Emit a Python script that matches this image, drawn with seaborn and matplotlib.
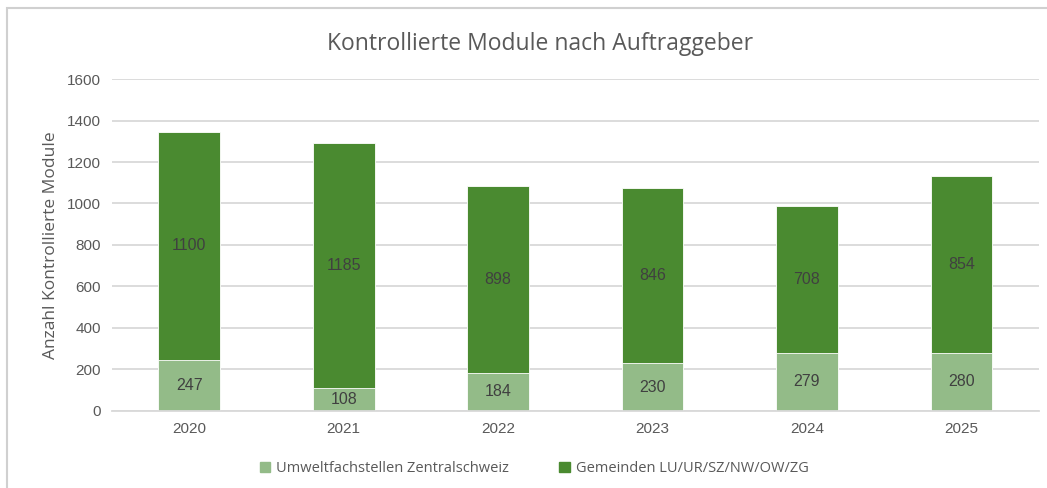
import matplotlib
matplotlib.use("Agg")

import matplotlib.pyplot as plt
import matplotlib.patches as mpatches
import numpy as np
import pandas as pd
import seaborn as sns

# ── Daten ──
jahre = ["2020", "2021", "2022", "2023", "2024", "2025"]
umweltfachstellen = [247, 108, 184, 230, 279, 280]
gemeinden = [1100, 1185, 898, 846, 708, 854]

serie_unten = "Umweltfachstellen Zentralschweiz"
serie_oben = "Gemeinden LU/UR/SZ/NW/OW/ZG"

_HELL = "#93bb88"
_DUNKEL = "#4a8a30"
_TEXT = "#595959"
_GRID = "#d9d9d9"

sns.set_theme(style="white")
plt.rcParams["font.family"] = ["Open Sans", "DejaVu Sans"]

df = pd.DataFrame({"Jahr": jahre, "unten": umweltfachstellen, "oben": gemeinden})
df["total"] = df["unten"] + df["oben"]

fig = plt.figure(figsize=(10.47, 4.88), dpi=100)
ax = fig.add_axes([0.107, 0.158, 0.885, 0.68])

# Gesamtbalken (dunkel), darüber der untere Anteil (hell)
sns.barplot(data=df, x="Jahr", y="total", color=_DUNKEL, width=0.4,
            saturation=1, ax=ax, edgecolor="white", linewidth=0.6)
sns.barplot(data=df, x="Jahr", y="unten", color=_HELL, width=0.4,
            saturation=1, ax=ax, edgecolor="white", linewidth=0.6)

# Beschriftungen
for i, (u, o) in enumerate(zip(umweltfachstellen, gemeinden)):
    ax.text(i, u / 2, str(u), ha="center", va="center", fontsize=11.5,
            color="#404040", family=["Liberation Sans", "DejaVu Sans"])
    ax.text(i, u + o / 2, str(o), ha="center", va="center", fontsize=11.5,
            color="#404040", family=["Liberation Sans", "DejaVu Sans"])

ax.set_ylim(0, 1600)
ax.set_yticks(np.arange(0, 1601, 200))
ax.set_xlim(-0.5, len(jahre) - 0.5)
ax.yaxis.grid(True, color=_GRID, linewidth=1.3)
ax.set_axisbelow(True)
for s in ["top", "right", "left"]:
    ax.spines[s].set_visible(False)
ax.spines["bottom"].set_color(_GRID)
ax.spines["bottom"].set_linewidth(1.3)
ax.tick_params(axis="both", length=0, colors=_TEXT, labelsize=11, pad=8)
for lab in ax.get_xticklabels() + ax.get_yticklabels():
    lab.set_family(["Liberation Sans", "DejaVu Sans"])

ax.set_xlabel("")
ax.set_ylabel("Anzahl Kontrollierte Module", fontsize=12.5, color=_TEXT, labelpad=6)

fig.suptitle("Kontrollierte Module nach Auftraggeber", x=0.516, y=0.935,
             fontsize=16.5, color=_TEXT)

handles = [mpatches.Patch(color=_HELL, label=serie_unten),
           mpatches.Patch(color=_DUNKEL, label=serie_oben)]
fig.legend(handles=handles, loc="center", bbox_to_anchor=(0.51, 0.04), ncol=2,
           frameon=False, fontsize=10.5, labelcolor=_TEXT, handlelength=0.7,
           handleheight=0.7, handletextpad=0.4, columnspacing=3.5)

# Rahmen des Diagrammbereichs
fig.patches.append(mpatches.Rectangle((7 / 1047, -0.01), 1.02, 1 - 8 / 488 + 0.01,
                                      transform=fig.transFigure, fill=False,
                                      edgecolor="#d0d0d0", linewidth=1.5))

fig.savefig("out.png", dpi=100)
